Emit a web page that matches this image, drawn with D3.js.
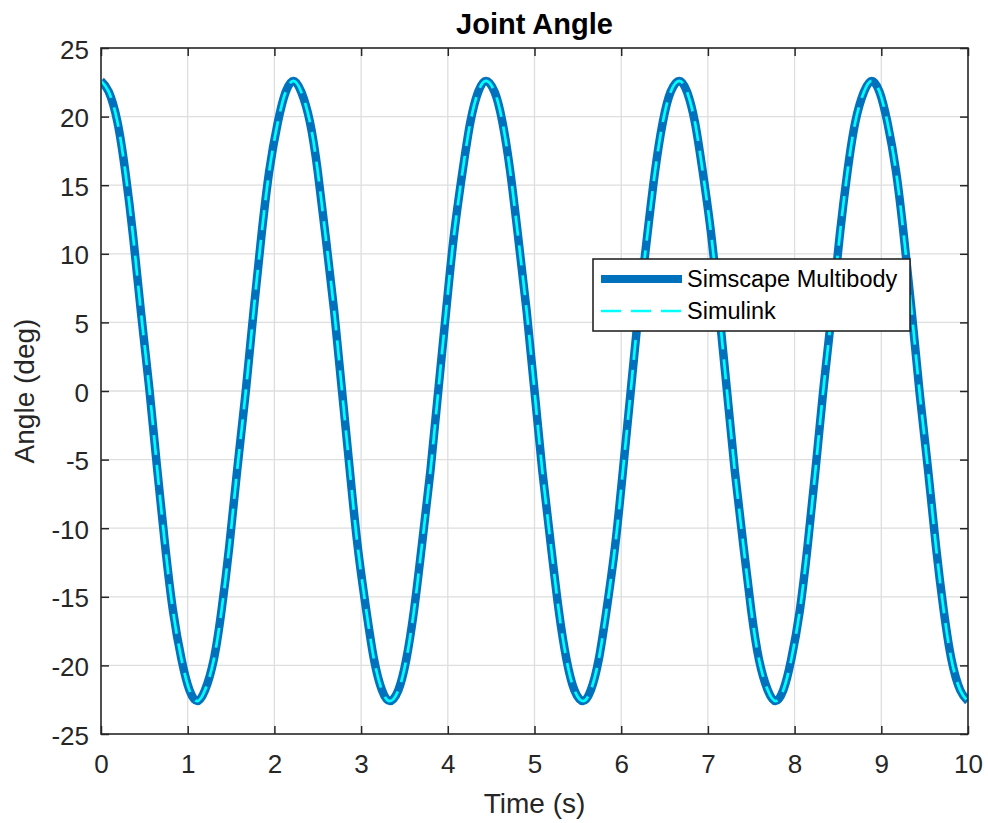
<!DOCTYPE html>
<html><head><meta charset="utf-8">
<script src="https://cdn.jsdelivr.net/npm/d3@7/dist/d3.min.js"></script>
<style>
body{margin:0;background:#fff}
svg{display:block}
text{font-family:"Liberation Sans",Arial,Helvetica,sans-serif}
</style>
</head><body>
<svg id="chart" width="988" height="823"></svg>
<script>
// ---- data ----
const time = [0.00,0.09,0.19,0.28,0.37,0.46,0.56,0.65,0.74,0.83,0.93,1.02,
  1.11,1.20,1.30,1.39,1.48,1.57,1.67,1.76,1.85,1.94,2.04,2.13,
  2.22,2.31,2.41,2.50,2.59,2.69,2.78,2.87,2.96,3.06,3.15,3.24,
  3.33,3.43,3.52,3.61,3.70,3.80,3.89,3.98,4.07,4.17,4.26,4.35,
  4.44,4.54,4.63,4.72,4.81,4.91,5.00,5.09,5.19,5.28,5.37,5.46,
  5.56,5.65,5.74,5.83,5.93,6.02,6.11,6.20,6.30,6.39,6.48,6.57,
  6.67,6.76,6.85,6.94,7.04,7.13,7.22,7.31,7.41,7.50,7.59,7.69,
  7.78,7.87,7.96,8.06,8.15,8.24,8.33,8.43,8.52,8.61,8.70,8.80,
  8.89,8.98,9.07,9.17,9.26,9.35,9.44,9.54,9.63,9.72,9.81,9.91,
  10.00];
const simscapeAngle = [22.6,21.8,19.6,16.0,11.3,5.8,0.0,-5.8,-11.3,-16.0,-19.6,-21.8,
  -22.6,-21.8,-19.6,-16.0,-11.3,-5.8,0.0,5.8,11.3,16.0,19.6,21.8,
  22.6,21.8,19.6,16.0,11.3,5.8,0.0,-5.8,-11.3,-16.0,-19.6,-21.8,
  -22.6,-21.8,-19.6,-16.0,-11.3,-5.8,0.0,5.8,11.3,16.0,19.6,21.8,
  22.6,21.8,19.6,16.0,11.3,5.8,0.0,-5.8,-11.3,-16.0,-19.6,-21.8,
  -22.6,-21.8,-19.6,-16.0,-11.3,-5.8,0.0,5.8,11.3,16.0,19.6,21.8,
  22.6,21.8,19.6,16.0,11.3,5.8,0.0,-5.8,-11.3,-16.0,-19.6,-21.8,
  -22.6,-21.8,-19.6,-16.0,-11.3,-5.8,0.0,5.8,11.3,16.0,19.6,21.8,
  22.6,21.8,19.6,16.0,11.3,5.8,0.0,-5.8,-11.3,-16.0,-19.6,-21.8,
  -22.6];
const simulinkAngle = [22.6,21.8,19.6,16.0,11.3,5.8,0.0,-5.8,-11.3,-16.0,-19.6,-21.8,
  -22.6,-21.8,-19.6,-16.0,-11.3,-5.8,0.0,5.8,11.3,16.0,19.6,21.8,
  22.6,21.8,19.6,16.0,11.3,5.8,0.0,-5.8,-11.3,-16.0,-19.6,-21.8,
  -22.6,-21.8,-19.6,-16.0,-11.3,-5.8,0.0,5.8,11.3,16.0,19.6,21.8,
  22.6,21.8,19.6,16.0,11.3,5.8,0.0,-5.8,-11.3,-16.0,-19.6,-21.8,
  -22.6,-21.8,-19.6,-16.0,-11.3,-5.8,0.0,5.8,11.3,16.0,19.6,21.8,
  22.6,21.8,19.6,16.0,11.3,5.8,0.0,-5.8,-11.3,-16.0,-19.6,-21.8,
  -22.6,-21.8,-19.6,-16.0,-11.3,-5.8,0.0,5.8,11.3,16.0,19.6,21.8,
  22.6,21.8,19.6,16.0,11.3,5.8,0.0,-5.8,-11.3,-16.0,-19.6,-21.8,
  -22.6];
const xTickValues = [0,1,2,3,4,5,6,7,8,9,10];
const yTickValues = [-25,-20,-15,-10,-5,0,5,10,15,20,25];
const seriesNames = ["Simscape Multibody","Simulink"];
const titleText = "Joint Angle";
const xLabelText = "Time (s)";
const yLabelText = "Angle (deg)";

// ---- layout ----
const L = 101, R = 968, T = 48, B = 734;
const axisColor = "#262626";
const gridColor = "#dedede";
const svg = d3.select("#chart");

const x = d3.scaleLinear().domain([0,10]).range([L,R]);
const y = d3.scaleLinear().domain([-25,25]).range([B,T]);

// grid
const grid = svg.append("g");
grid.selectAll("line.gx").data(xTickValues.slice(1,-1)).join("line")
  .attr("x1",d=>x(d)).attr("x2",d=>x(d)).attr("y1",T).attr("y2",B)
  .attr("stroke",gridColor).attr("stroke-width",1.3);
grid.selectAll("line.gy").data(yTickValues.slice(1,-1)).join("line")
  .attr("y1",d=>y(d)).attr("y2",d=>y(d)).attr("x1",L).attr("x2",R)
  .attr("stroke",gridColor).attr("stroke-width",1.3);

// clip
svg.append("clipPath").attr("id","clip").append("rect")
  .attr("x",L).attr("y",T).attr("width",R-L).attr("height",B-T);

const pts1 = time.map((t,i)=>[t,simscapeAngle[i]]);
const pts2 = time.map((t,i)=>[t,simulinkAngle[i]]);
const line = d3.line().x(d=>x(d[0])).y(d=>y(d[1])).curve(d3.curveNatural);

const plot = svg.append("g").attr("clip-path","url(#clip)");
plot.append("path").attr("d",line(pts1)).attr("fill","none")
  .attr("stroke","#0072BD").attr("stroke-width",8.5).attr("stroke-linejoin","round");
plot.append("path").attr("d",line(pts2)).attr("fill","none")
  .attr("stroke","#00FFFF").attr("stroke-width",2.7).attr("stroke-dasharray","20,10");

// axes
const tickFont = 26;
function styleAxis(g){
  g.select(".domain").remove();
  g.selectAll(".tick line").attr("stroke",axisColor).attr("stroke-width",1.5);
  g.selectAll(".tick text").attr("fill",axisColor).attr("font-size",tickFont)
    .attr("font-family","'Liberation Sans',Arial,sans-serif");
}
const xAxis = svg.append("g").attr("transform",`translate(0,${B})`)
  .call(d3.axisBottom(x).tickValues(xTickValues).tickFormat(d3.format("d"))
    .tickSizeInner(-8).tickSizeOuter(0).tickPadding(16));
styleAxis(xAxis);
xAxis.selectAll(".tick text").attr("dy",null).attr("y",39);

const xAxisTop = svg.append("g").attr("transform",`translate(0,${T})`)
  .call(d3.axisTop(x).tickValues(xTickValues).tickFormat("").tickSizeInner(-8).tickSizeOuter(0));
styleAxis(xAxisTop);

const yAxis = svg.append("g").attr("transform",`translate(${L},0)`)
  .call(d3.axisLeft(y).tickValues(yTickValues).tickFormat(d3.format("d"))
    .tickSizeInner(-8).tickSizeOuter(0));
styleAxis(yAxis);
yAxis.selectAll(".tick text").attr("x",-12).attr("dy",null).attr("y",10)
  .text(d=>d<0?"-"+Math.abs(d):d);

const yAxisRight = svg.append("g").attr("transform",`translate(${R},0)`)
  .call(d3.axisRight(y).tickValues(yTickValues).tickFormat("").tickSizeInner(-8).tickSizeOuter(0));
styleAxis(yAxisRight);

// frame
svg.append("rect").attr("x",L).attr("y",T).attr("width",R-L).attr("height",B-T)
  .attr("fill","none").attr("stroke",axisColor).attr("stroke-width",1.6);

// labels
svg.append("text").attr("x",(L+R)/2).attr("y",34).attr("text-anchor","middle")
  .attr("font-size",29).attr("font-weight","bold").attr("fill","#000").text(titleText);
svg.append("text").attr("x",(L+R)/2).attr("y",813).attr("text-anchor","middle")
  .attr("font-size",28).attr("fill",axisColor).text(xLabelText);
svg.append("text").attr("transform",`translate(34,${(T+B)/2}) rotate(-90)`)
  .attr("text-anchor","middle").attr("font-size",28).attr("fill",axisColor).text(yLabelText);

// legend
const lg = svg.append("g");
lg.append("rect").attr("x",593).attr("y",259).attr("width",317).attr("height",72)
  .attr("fill","#fff").attr("stroke",axisColor).attr("stroke-width",1.6);
const rows = [
  {name:seriesNames[0], color:"#0072BD", w:8, dash:null, yy:279},
  {name:seriesNames[1], color:"#00FFFF", w:2.7, dash:"20,10", yy:311}
];
rows.forEach(r=>{
  lg.append("line").attr("x1",601).attr("x2",682).attr("y1",r.yy).attr("y2",r.yy)
    .attr("stroke",r.color).attr("stroke-width",r.w).attr("stroke-dasharray",r.dash);
  lg.append("text").attr("x",687).attr("y",r.yy+8).attr("font-size",23.5)
    .attr("fill","#000").text(r.name);
});
</script>
</body></html>
